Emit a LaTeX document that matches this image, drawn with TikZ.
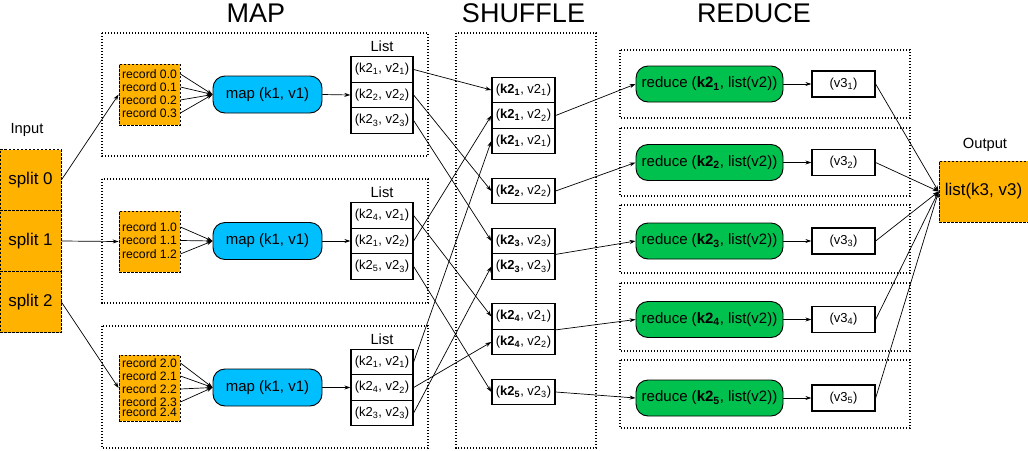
\documentclass[tikz,border=0pt]{standalone}
\usepackage{fontspec}
\setmainfont{Liberation Sans}
\usetikzlibrary{arrows.meta}
\definecolor{orng}{HTML}{FFB300}
\definecolor{cyanmap}{HTML}{00BFFF}
\definecolor{grn}{HTML}{00C04E}
\newcommand{\ms}[1]{\textsubscript{#1}}
\tikzset{
  title/.style={font=\fontsize{27}{30}\selectfont, anchor=base, inner sep=0},
  lbl/.style={font=\fontsize{14.7}{17}\selectfont, inner sep=0},
  container/.style={draw, line width=1.2pt, dash pattern=on 1.4pt off 1.6pt},
  orangedash/.style={dash pattern=on 2.5pt off 1.5pt},
  splitbox/.style={draw, orangedash, fill=orng, line width=0.8pt, minimum width=61pt, minimum height=61pt, inner sep=0, font=\fontsize{17}{20}\selectfont},
  recbox/.style={draw, orangedash, fill=orng, line width=0.8pt, minimum width=61pt, inner sep=0},
  rec/.style={font=\fontsize{12.2}{14}\selectfont, inner sep=0},
  mapnode/.style={draw, fill=cyanmap, rounded corners=12pt, line width=0.9pt, minimum width=109pt, minimum height=37pt, inner sep=0, font=\fontsize{15}{18}\selectfont},
  redn/.style={draw, fill=grn, rounded corners=12pt, line width=0.9pt, minimum width=147pt, minimum height=36pt, inner sep=0, font=\fontsize{15}{18}\selectfont},
  cell/.style={draw, fill=white, line width=1.3pt, minimum width=62pt, minimum height=25.5pt, inner sep=0, font=\fontsize{13}{15}\selectfont},
  vbox/.style={draw, fill=white, line width=1.3pt, minimum width=63pt, minimum height=26pt, inner sep=0, font=\fontsize{13}{15}\selectfont},
  outbox/.style={draw, orangedash, fill=orng, line width=0.8pt, minimum width=89pt, minimum height=61pt, inner sep=0, font=\fontsize{17}{20}\selectfont},
  conn/.style={draw, line width=0.7pt, -{Stealth[length=6pt,width=4pt]}},
}
\begin{document}
\begin{tikzpicture}[x=1pt,y=-1pt]
\useasboundingbox (0,0) rectangle (1028,450);

% titles
\node[title] (tmap) at (256,22) {MAP};
\node[title] (tshuf) at (523.5,22) {SHUFFLE};
\node[title] (tred) at (754,22) {REDUCE};

% containers
\draw[container] (102,33) rectangle (428,156);
\draw[container] (102,179) rectangle (428,303);
\draw[container] (102,326) rectangle (428,448);
\draw[container] (456,33) rectangle (596,448);
\foreach \a/\b in {50/118,128/196,205/273,283/351,360/428}
  \draw[container] (620,\a) rectangle (910,\b);

% input
\node[lbl] (inlbl) at (27,130) {Input};
\node[splitbox] (S0) at (30.5,180) {split 0};
\node[splitbox] (S1) at (30.5,241) {split 1};
\node[splitbox] (S2) at (30.5,302) {split 2};

% record boxes
\node[recbox, minimum height=61pt] (R1) at (149.5,94.5) {};
\node[recbox, minimum height=61pt] (R2) at (149.5,241.5) {};
\node[recbox, minimum height=66pt] (R3) at (149.5,388) {};
\node[rec] (r10) at (149.5,74) {record 0.0};
\node[rec] (r11) at (149.5,87) {record 0.1};
\node[rec] (r12) at (149.5,100) {record 0.2};
\node[rec] (r13) at (149.5,113) {record 0.3};
\node[rec] (r20) at (149.5,227) {record 1.0};
\node[rec] (r21) at (149.5,240.5) {record 1.1};
\node[rec] (r22) at (149.5,254) {record 1.2};
\node[rec] (r30) at (149.5,363) {record 2.0};
\node[rec] (r31) at (149.5,376) {record 2.1};
\node[rec] (r32) at (149.5,389) {record 2.2};
\node[rec] (r33) at (149.5,402) {record 2.3};
\node[rec] (r34) at (149.5,412.5) {record 2.4};

% map nodes
\node[mapnode] (M1) at (267.5,94.5) {map (k1, v1)};
\node[mapnode] (M2) at (267.5,241) {map (k1, v1)};
\node[mapnode] (M3) at (267.5,387.5) {map (k1, v1)};

% lists
\node[lbl] (ll1) at (382,46) {List};
\node[cell] (L1a) at (382,69.5) {(k2\ms{1}, v2\ms{1})};
\node[cell] (L1b) at (382,95) {(k2\ms{2}, v2\ms{2})};
\node[cell] (L1c) at (382,120.5) {(k2\ms{3}, v2\ms{3})};
\node[lbl] (ll2) at (382,192) {List};
\node[cell] (L2a) at (382,215.5) {(k2\ms{4}, v2\ms{1})};
\node[cell] (L2b) at (382,241) {(k2\ms{1}, v2\ms{2})};
\node[cell] (L2c) at (382,266.5) {(k2\ms{5}, v2\ms{3})};
\node[lbl] (ll3) at (382,339) {List};
\node[cell] (L3a) at (382,362) {(k2\ms{1}, v2\ms{1})};
\node[cell] (L3b) at (382,387.5) {(k2\ms{4}, v2\ms{2})};
\node[cell] (L3c) at (382,413) {(k2\ms{3}, v2\ms{3})};

% shuffle cells
\node[cell, minimum width=63pt] (A1) at (523.5,90) {(\textbf{k2\ms{1}}, v2\ms{1})};
\node[cell, minimum width=63pt] (A2) at (523.5,115.5) {(\textbf{k2\ms{1}}, v2\ms{2})};
\node[cell, minimum width=63pt] (A3) at (523.5,141) {(\textbf{k2\ms{1}}, v2\ms{1})};
\node[cell, minimum width=63pt] (B1) at (523.5,191) {(\textbf{k2\ms{2}}, v2\ms{2})};
\node[cell, minimum width=63pt] (C1) at (523.5,241) {(\textbf{k2\ms{3}}, v2\ms{3})};
\node[cell, minimum width=63pt] (C2) at (523.5,266.5) {(\textbf{k2\ms{3}}, v2\ms{3})};
\node[cell, minimum width=63pt] (D1) at (523.5,316.5) {(\textbf{k2\ms{4}}, v2\ms{1})};
\node[cell, minimum width=63pt] (D2) at (523.5,342) {(\textbf{k2\ms{4}}, v2\ms{2})};
\node[cell, minimum width=63pt] (E1) at (523.5,392) {(\textbf{k2\ms{5}}, v2\ms{3})};

% reduce nodes
\node[redn] (D01) at (709.5,84) {reduce (\textbf{k2\ms{1}}, list(v2))};
\node[redn] (D02) at (709.5,162.5) {reduce (\textbf{k2\ms{2}}, list(v2))};
\node[redn] (D03) at (709.5,241) {reduce (\textbf{k2\ms{3}}, list(v2))};
\node[redn] (D04) at (709.5,319.5) {reduce (\textbf{k2\ms{4}}, list(v2))};
\node[redn] (D05) at (709.5,398) {reduce (\textbf{k2\ms{5}}, list(v2))};
\node[vbox] (V1) at (843.5,84) {(v3\ms{1})};
\node[vbox] (V2) at (843.5,162.5) {(v3\ms{2})};
\node[vbox] (V3) at (843.5,241) {(v3\ms{3})};
\node[vbox] (V4) at (843.5,319.5) {(v3\ms{4})};
\node[vbox] (V5) at (843.5,398) {(v3\ms{5})};

% output
\node[lbl] (outlbl) at (985,145) {Output};
\node[outbox] (OUT) at (983.5,191.5) {list(k3, v3)};

% connectors: input -> records
\draw[conn] (S0.east) -- (R1.west);
\draw[conn] (S1.east) -- (R2.west);
\draw[conn] (S2.east) -- (R3.west);

% records -> map
\foreach \r in {r10,r11,r12,r13} \draw[conn] (\r -| R1.east) -- (M1.west);
\foreach \r in {r20,r21,r22} \draw[conn] (\r -| R2.east) -- (M2.west);
\foreach \r in {r30,r31,r32,r33} \draw[conn] (\r -| R3.east) -- (M3.west);

% map -> list
\draw[conn] (M1.east) -- (L1b.west);
\draw[conn] (M2.east) -- (L2b.west);
\draw[conn] (M3.east) -- (L3b.west);

% list -> shuffle
\draw[conn] (L1a.east) -- (A1.west);
\draw[conn] (L1b.east) -- (B1.west);
\draw[conn] (L1c.east) -- (C1.west);
\draw[conn] (L2a.east) -- (D1.west);
\draw[conn] (L2b.east) -- (A2.west);
\draw[conn] (L2c.east) -- (E1.west);
\draw[conn] (L3a.east) -- (A3.west);
\draw[conn] (L3b.east) -- (D2.west);
\draw[conn] (L3c.east) -- (C2.west);

% shuffle -> reduce
\draw[conn] (A2.east) -- (D01.west);
\draw[conn] (B1.east) -- (D02.west);
\draw[conn] (C1.south east) -- (D03.west);
\draw[conn] (D1.south east) -- (D04.west);
\draw[conn] (E1.east) -- (D05.west);

% reduce -> v3
\draw[conn] (D01.east) -- (V1.west);
\draw[conn] (D02.east) -- (V2.west);
\draw[conn] (D03.east) -- (V3.west);
\draw[conn] (D04.east) -- (V4.west);
\draw[conn] (D05.east) -- (V5.west);

% v3 -> output
\foreach \v in {V1,V2,V3,V4,V5} \draw[conn] (\v.east) -- (OUT.west);
\end{tikzpicture}
\end{document}
